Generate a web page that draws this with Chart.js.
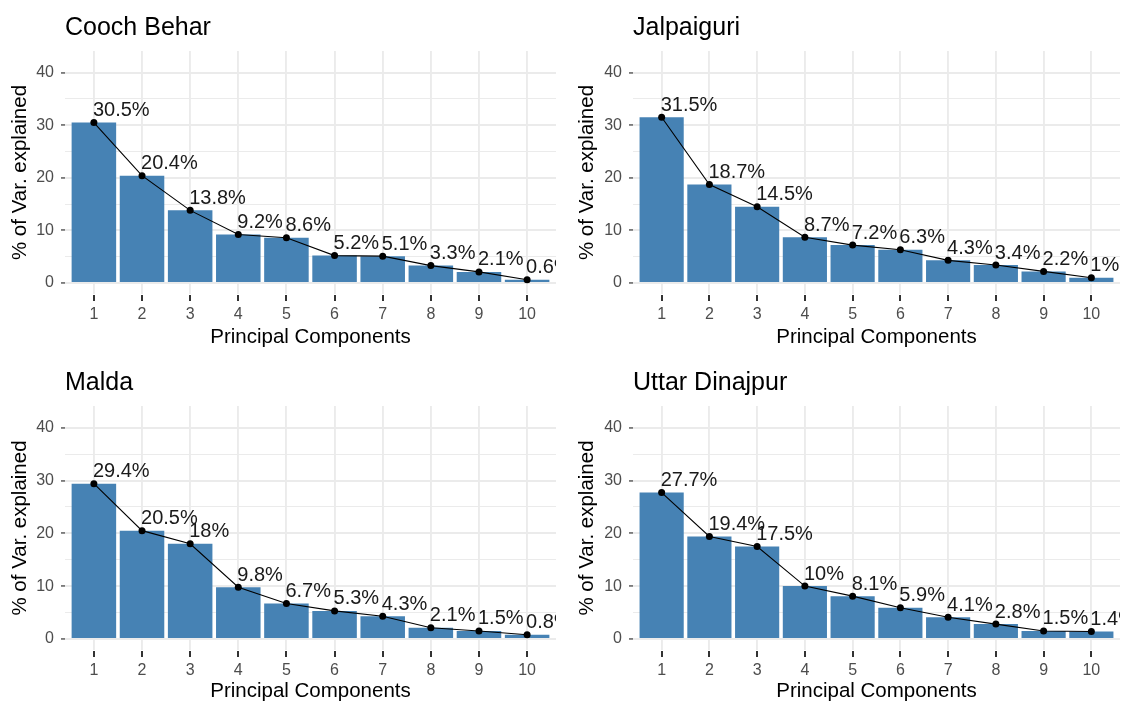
<!DOCTYPE html>
<html>
<head>
<meta charset="utf-8">
<title>Scree plots by district</title>
<script src="https://cdn.jsdelivr.net/npm/chart.js@4.4.1/dist/chart.umd.min.js"></script>
<style>
  html, body { margin: 0; padding: 0; background: #ffffff; overflow: hidden; }
  #wrap { position: relative; width: 1123px; height: 704px; overflow: hidden; }
  .panel { position: absolute; line-height: 0; }
  canvas { display: block; }
</style>
</head>
<body>
<div id="wrap">
  <div class="panel" style="left:0px;top:0px"><canvas id="c1" width="561" height="352"></canvas></div>
  <div class="panel" style="left:561px;top:0px"><canvas id="c2" width="563" height="352"></canvas></div>
  <div class="panel" style="left:0px;top:352px"><canvas id="c3" width="561" height="352"></canvas></div>
  <div class="panel" style="left:561px;top:352px"><canvas id="c4" width="563" height="352"></canvas></div>
</div>
<script>
// Principal components (x categories)
const components = [1, 2, 3, 4, 5, 6, 7, 8, 9, 10];

// % of variance explained per component
const coochBehar = [30.5, 20.4, 13.8, 9.2, 8.6, 5.2, 5.1, 3.3, 2.1, 0.6];
const jalpaiguri = [31.5, 18.7, 14.5, 8.7, 7.2, 6.3, 4.3, 3.4, 2.2, 1];
const malda = [29.4, 20.5, 18, 9.8, 6.7, 5.3, 4.3, 2.1, 1.5, 0.8];
const uttarDinajpur = [27.7, 19.4, 17.5, 10, 8.1, 5.9, 4.1, 2.8, 1.5, 1.4];

// y axis: labelled (major) ticks and unlabelled minor grid lines
const yMajorTicks = [0, 10, 20, 30, 40];
const yMinorTicks = [5, 15, 25, 35];

const FONT = "'Liberation Sans', Arial, Helvetica, sans-serif";
const GRID = '#EBEBEB';
const BAR = '#4682B4';

// "30.5%" style labels above-right of each point (clipped to the panel),
// plus the short dark tick marks under the x axis
const pointLabels = {
  id: 'pointLabels',
  afterDatasetsDraw(chart) {
    const meta = chart.getDatasetMeta(0);
    const values = chart.data.datasets[0].data;
    const area = chart.chartArea;
    const ctx = chart.ctx;
    ctx.save();
    ctx.beginPath();
    ctx.rect(area.left, area.top, area.right - area.left, area.bottom - area.top);
    ctx.clip();
    ctx.font = '20px ' + FONT;
    ctx.fillStyle = '#1A1A1A';
    ctx.textAlign = 'left';
    ctx.textBaseline = 'alphabetic';
    meta.data.forEach((pt, i) => {
      ctx.fillText(values[i].y + '%', pt.x - 1, pt.y - 6.5);
    });
    ctx.restore();
  },
  afterDraw(chart) {
    const xScale = chart.scales.x;
    const ctx = chart.ctx;
    ctx.save();
    ctx.fillStyle = '#333333';
    components.forEach(v => {
      const px = Math.round(xScale.getPixelForValue(v));
      ctx.fillRect(px - 1, Math.round(xScale.top) + 1, 2, 6);
    });
    ctx.restore();
  }
};

function makePanel(canvasId, name, values, box) {
  const points = components.map((pc, i) => ({ x: pc, y: values[i] }));
  const allY = yMajorTicks.concat(yMinorTicks).sort((a, b) => a - b);

  return new Chart(document.getElementById(canvasId), {
    type: 'bar',
    data: {
      datasets: [
        {
          type: 'line',
          data: points,
          borderColor: '#000000',
          borderWidth: 1.1,
          pointRadius: 3.5,
          pointBackgroundColor: '#000000',
          pointBorderWidth: 0,
          tension: 0,
          order: 0
        },
        {
          type: 'bar',
          data: points,
          backgroundColor: BAR,
          borderWidth: 0,
          barPercentage: 0.925,
          categoryPercentage: 1,
          order: 1
        }
      ]
    },
    options: {
      responsive: false,
      animation: false,
      devicePixelRatio: 1,
      layout: { padding: { left: box.padLeft, right: box.padRight, top: 0, bottom: 0 } },
      plugins: {
        legend: { display: false },
        tooltip: { enabled: false },
        title: {
          display: true,
          text: name,
          align: 'start',
          fullSize: false,
          color: '#000000',
          font: { family: FONT, size: 25, weight: 'normal', lineHeight: 1.2 },
          padding: { top: box.titleTop, bottom: box.titleBottom }
        }
      },
      scales: {
        x: {
          type: 'linear',
          min: 0.4,
          max: 10.6,
          offset: false,
          afterBuildTicks: axis => { axis.ticks = components.map(v => ({ value: v })); },
          afterFit: axis => { axis.height = box.xAxisHeight; },
          border: { display: false },
          grid: {
            offset: false,
            color: GRID,
            lineWidth: 1.9,
            drawTicks: false
          },
          ticks: {
            color: '#4D4D4D',
            font: { family: FONT, size: 16 },
            padding: 11,
            maxRotation: 0,
            autoSkip: false
          },
          title: {
            display: true,
            text: 'Principal Components',
            color: '#000000',
            font: { family: FONT, size: 20.5 },
            padding: { top: 0, bottom: box.xTitleBottom }
          }
        },
        y: {
          type: 'linear',
          min: -2.1,
          max: 44.1,
          afterBuildTicks: axis => { axis.ticks = allY.map(v => ({ value: v })); },
          afterFit: axis => { axis.width = box.yAxisWidth; },
          border: { display: false },
          grid: {
            color: GRID,
            lineWidth: ctx => (yMajorTicks.includes(ctx.tick.value) ? 1.9 : 1),
            tickColor: ctx => (yMajorTicks.includes(ctx.tick.value) ? '#333333' : 'rgba(0,0,0,0)'),
            tickWidth: 1.2,
            tickLength: 4
          },
          ticks: {
            color: '#4D4D4D',
            font: { family: FONT, size: 16 },
            padding: 7,
            autoSkip: false,
            callback: v => (yMajorTicks.includes(v) ? String(v) : '')
          },
          title: {
            display: true,
            text: '% of Var. explained',
            color: '#000000',
            font: { family: FONT, size: 20.5 },
            padding: 0
          }
        }
      }
    },
    plugins: [pointLabels]
  });
}

const topRow = { titleTop: 13.5, titleBottom: 7.5, xAxisHeight: 58, xTitleBottom: 2 };
const bottomRow = { titleTop: 16.5, titleBottom: 7.5, xAxisHeight: 54, xTitleBottom: 0 };
const leftCol = { padLeft: 8, padRight: 5, yAxisWidth: 57 };
const rightCol = { padLeft: 14, padRight: 0, yAxisWidth: 58 };

makePanel('c1', 'Cooch Behar', coochBehar, Object.assign({}, topRow, leftCol));
makePanel('c2', 'Jalpaiguri', jalpaiguri, Object.assign({}, topRow, rightCol));
makePanel('c3', 'Malda', malda, Object.assign({}, bottomRow, leftCol));
makePanel('c4', 'Uttar Dinajpur', uttarDinajpur, Object.assign({}, bottomRow, rightCol));
</script>
</body>
</html>
